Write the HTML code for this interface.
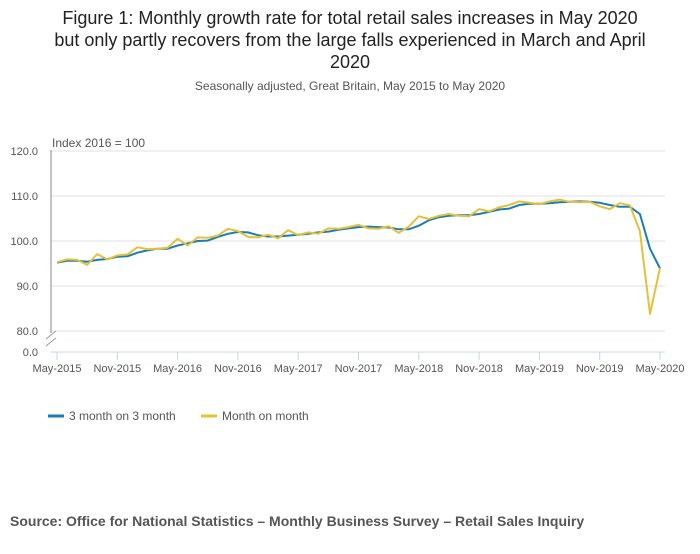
<!DOCTYPE html>
<html><head><meta charset="utf-8"><style>
body{margin:0;background:#fff;font-family:"Liberation Sans",sans-serif;}
svg text{font-family:"Liberation Sans",sans-serif;}
</style></head><body>
<svg width="700" height="549" viewBox="0 0 700 549">
<text x="350" y="24" text-anchor="middle" font-size="18" fill="#222">Figure 1: Monthly growth rate for total retail sales increases in May 2020</text>
<text x="350" y="46" text-anchor="middle" font-size="18" fill="#222">but only partly recovers from the large falls experienced in March and April</text>
<text x="350" y="68" text-anchor="middle" font-size="18" fill="#222">2020</text>
<text x="350" y="90" text-anchor="middle" font-size="12" fill="#555">Seasonally adjusted, Great Britain, May 2015 to May 2020</text>
<text x="52" y="147" font-size="12" fill="#555">Index 2016 = 100</text>
<g id="grid"></g>
<g id="axes"></g>
<g id="series"></g>
<g>
<line x1="48" y1="416" x2="64" y2="416" stroke="#1b7db5" stroke-width="3"/>
<text x="69" y="420" font-size="12" fill="#555">3 month on 3 month</text>
<line x1="201" y1="416" x2="217" y2="416" stroke="#e5c13b" stroke-width="3"/>
<text x="222" y="420" font-size="12" fill="#555">Month on month</text>
</g>
<text x="10" y="526" font-size="14" font-weight="bold" fill="#555">Source: Office for National Statistics – Monthly Business Survey – Retail Sales Inquiry</text>
</svg>
<script>
const threeMonth=[95.2,95.6,95.6,95.4,95.8,96.0,96.5,96.6,97.4,97.9,98.3,98.3,99.0,99.5,100.0,100.1,100.9,101.6,102.0,101.9,101.3,101.0,101.0,101.2,101.4,101.6,101.9,102.1,102.5,102.8,103.1,103.2,103.1,103.0,102.6,102.6,103.4,104.6,105.3,105.6,105.7,105.7,106.0,106.5,107.0,107.2,108.0,108.3,108.3,108.4,108.6,108.7,108.8,108.7,108.5,108.0,107.6,107.6,106.0,98.3,93.9];
const monthOnMonth=[95.3,95.9,95.8,94.7,97.1,95.9,96.8,97.0,98.6,98.2,98.3,98.5,100.5,99.0,100.8,100.7,101.2,102.7,102.2,100.9,100.8,101.4,100.6,102.4,101.3,101.9,101.6,102.8,102.7,103.1,103.6,102.8,102.7,103.3,101.8,103.2,105.5,104.9,105.6,106.0,105.6,105.5,107.1,106.6,107.5,108.0,108.8,108.5,108.2,108.8,109.2,108.7,108.6,108.7,107.7,107.1,108.4,107.9,102.2,83.8,94.0];
const yTicks=[80,90,100,110,120];
const xTickLabels=["May-2015","Nov-2015","May-2016","Nov-2016","May-2017","Nov-2017","May-2018","Nov-2018","May-2019","Nov-2019","May-2020"];
const NS="http://www.w3.org/2000/svg";
const xs=i=>57+i*(603/60);
const ys=v=>241-(v-100)*4.5;
function mk(tag,attrs,parent){const e=document.createElementNS(NS,tag);for(const k in attrs)e.setAttribute(k,attrs[k]);document.getElementById(parent).appendChild(e);return e;}
yTicks.forEach(t=>{
 const g=mk('line',{x1:51,x2:665,y1:ys(t),y2:ys(t),stroke:'#e0e0e0','stroke-width':1},'grid');
 
 
 const l=mk('text',{x:38,y:ys(t)+4,'text-anchor':'end','font-size':11,fill:'#555'},'grid');
 l.textContent=t.toFixed(1);
 
 
});
const z=mk('text',{x:38,y:356,'text-anchor':'end','font-size':11,fill:'#555'},'grid');
z.textContent='0.0';


const ya=mk('line',{x1:51,x2:51,y1:150,y2:333,stroke:'#888','stroke-width':1},'axes');


const br=mk('path',{d:'M46,339 L56,331 M46,346 L56,338',stroke:'#999',fill:'none'},'axes');


const xa=mk('line',{x1:51,x2:665,y1:352,y2:352,stroke:'#c8d4e6','stroke-width':1},'axes');


xTickLabels.forEach((lab,k)=>{
 const x=xs(k*6);
 const t=mk('line',{x1:x,x2:x,y1:352,y2:360,stroke:'#c8d4e6'},'axes');
 
 
 const tx=mk('text',{x:x,y:372,'text-anchor':'middle','font-size':11,fill:'#555'},'axes');
 tx.textContent=lab;
 
 
});
function line(data,color,name){
 const d=data.map((v,i)=>(i?'L':'M')+xs(i).toFixed(1)+','+ys(v).toFixed(1)).join(' ');
 const p=mk('path',{d:d,fill:'none',stroke:color,'stroke-width':2,'stroke-linejoin':'round'},'series');
 
 
}
line(threeMonth,'#1b7db5','line-3-month-on-3-month');
line(monthOnMonth,'#e5c13b','line-month-on-month');
</script>
</body></html>
